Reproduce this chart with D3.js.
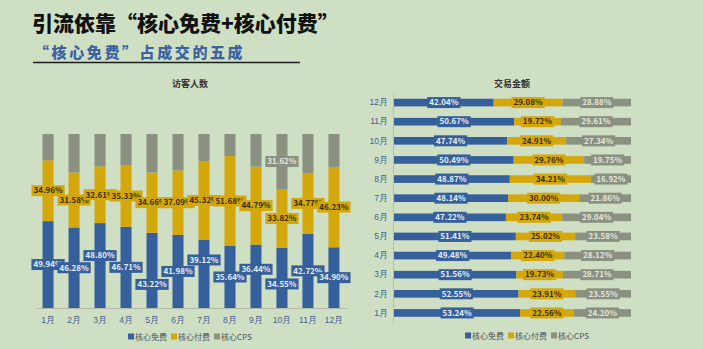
<!DOCTYPE html>
<html>
<head>
<meta charset="utf-8">
<script src="https://cdn.jsdelivr.net/npm/d3@7"></script>
<style>
  body { margin: 0; background: #cfdfc4; }
  svg { display: block; font-family: "Noto Sans CJK SC", "Noto Sans", sans-serif; }
</style>
</head>
<body>
<svg id="chart"></svg>
<script>
// data
const months = ["1月","2月","3月","4月","5月","6月","7月","8月","9月","10月","11月","12月"];
const seriesNames = ["核心免费","核心付费","核心CPS"];

// 访客人数 (left)
const visitFree = [49.94,46.28,48.80,46.71,43.22,41.98,39.12,35.64,36.44,34.55,42.72,34.90];
const visitPaid = [34.96,31.58,32.61,35.33,34.66,37.09,45.32,51.68,44.79,33.82,34.77,46.23];
const visitCps  = [15.10,22.14,18.59,17.96,22.12,20.93,15.56,12.68,18.77,31.62,22.51,18.87];
const visitCpsLabelled = ["10月"];

// 交易金额 (right)
const dealFree = [53.24,52.55,51.56,49.48,51.41,47.22,48.14,48.87,50.49,47.74,50.67,42.04];
const dealPaid = [22.56,23.91,19.73,22.40,25.02,23.74,30.00,34.21,29.76,24.91,19.72,29.08];
const dealCps  = [24.20,23.55,28.71,28.12,23.58,29.04,21.86,16.92,19.75,27.34,29.61,28.88];

const colors    = ["#35609c", "#d4a70a", "#8a9181"];
const textColor = ["#e4ecf6", "#3a2e05", "#e2e6dc"];

let width = 703, height = 349;
let svg = d3.select("#chart").attr("width", width).attr("height", height);

// titles
svg.append("text")
  .attr("x", 32).attr("y", 31)
  .attr("font-size", 21).attr("font-weight", 900).attr("fill", "#111")
  .text("引流依靠“核心免费+核心付费”");

svg.append("text")
  .attr("x", 34).attr("y", 58)
  .attr("font-size", 15).attr("font-weight", 900).attr("fill", "#3d62a0")
  .attr("letter-spacing", 2.6)
  .text("“核心免费”占成交的五成");

svg.append("line")
  .attr("x1", 33).attr("x2", 300).attr("y1", 62.5).attr("y2", 62.5)
  .attr("stroke", "#1e1e1e").attr("stroke-width", 1.3);

function label(g, x, y, txt, i) {
  let lg = g.append("g");
  let rect = lg.append("rect").attr("fill", colors[i]);
  let t = lg.append("text")
    .attr("x", x).attr("y", y).attr("dy", "0.35em")
    .attr("text-anchor", "middle")
    .attr("font-size", 8).attr("font-weight", 700)
    .attr("fill", textColor[i])
    .text(txt);
  let w = t.node().getComputedTextLength() + 4;
  rect.attr("x", x - w / 2).attr("y", y - 5.5).attr("width", w).attr("height", 11);
}

function legend(cx, cy) {
  let g = svg.append("g");
  let x = 0;
  seriesNames.forEach(function(name, i) {
    g.append("rect").attr("x", x).attr("y", cy - 3.5).attr("width", 6).attr("height", 6).attr("fill", colors[i]);
    let t = g.append("text").attr("x", x + 7).attr("y", cy).attr("dy", "0.35em")
      .attr("font-size", 8).attr("fill", "#4a5060").text(name);
    x += 7 + t.node().getComputedTextLength() + 4;
  });
  g.attr("transform", "translate(" + (cx - (x - 4) / 2) + ",0)");
}

// ---------- left: 访客人数 ----------
let visitRows = months.map(function(m, i) {
  return { month: m, free: visitFree[i], paid: visitPaid[i], cps: visitCps[i] };
});
let keys = ["free", "paid", "cps"];
let visitStack = d3.stack().keys(keys)(visitRows);

let x = d3.scaleBand().domain(months).range([35, 347]).paddingInner(0.575).paddingOuter(0.29);
let y = d3.scaleLinear().domain([0, 100]).range([308, 134]);

svg.append("text")
  .attr("x", 190).attr("y", 84).attr("dy", "0.35em")
  .attr("text-anchor", "middle").attr("font-size", 9).attr("font-weight", 700).attr("fill", "#333")
  .text("访客人数");

svg.append("g")
  .selectAll("g")
  .data(visitStack)
  .join("g")
  .attr("fill", function(d, i) { return colors[i]; })
  .selectAll("rect")
  .data(function(d) { return d; })
  .join("rect")
  .attr("x", function(d) { return x(d.data.month); })
  .attr("y", function(d) { return y(d[1]); })
  .attr("width", x.bandwidth())
  .attr("height", function(d) { return y(d[0]) - y(d[1]); });

let xAxis = svg.append("g")
  .attr("transform", "translate(0,308)")
  .call(d3.axisBottom(x).tickSize(0).tickPadding(9));
xAxis.select(".domain").attr("stroke", "#b4beac");
xAxis.selectAll("text").attr("font-size", 8.5).attr("fill", "#3f5f8f").attr("font-family", null);

// small nudges so overlapping blue labels stay readable
const labelShift = { "3月": -10, "5月": 14, "7月": -14, "9月": -7, "10月": 6 };

let leftLabels = svg.append("g");
visitStack.forEach(function(s, i) {
  s.forEach(function(d) {
    let m = d.data.month;
    if (i === 2 && visitCpsLabelled.indexOf(m) < 0) return;
    let cy = (y(d[0]) + y(d[1])) / 2 + (i === 0 ? (labelShift[m] || 0) : 0);
    label(leftLabels, x(m) + x.bandwidth() / 2, cy, d3.format(".2f")(d.data[keys[i]]) + "%", i);
  });
});

legend(190, 337);

// ---------- right: 交易金额 ----------
let dealRows = months.map(function(m, i) {
  return { month: m, free: dealFree[i], paid: dealPaid[i], cps: dealCps[i] };
});
let dealStack = d3.stack().keys(keys)(dealRows);

let yr = d3.scaleBand().domain(months.slice().reverse()).range([93, 322.5]).paddingInner(0.6).paddingOuter(0.3);
let xr = d3.scaleLinear().domain([0, 100]).range([394, 631]);

svg.append("text")
  .attr("x", 512).attr("y", 84).attr("dy", "0.35em")
  .attr("text-anchor", "middle").attr("font-size", 9).attr("font-weight", 700).attr("fill", "#333")
  .text("交易金额");

svg.append("g")
  .selectAll("g")
  .data(dealStack)
  .join("g")
  .attr("fill", function(d, i) { return colors[i]; })
  .selectAll("rect")
  .data(function(d) { return d; })
  .join("rect")
  .attr("x", function(d) { return xr(d[0]); })
  .attr("y", function(d) { return yr(d.data.month); })
  .attr("width", function(d) { return xr(d[1]) - xr(d[0]); })
  .attr("height", yr.bandwidth());

let yAxis = svg.append("g")
  .attr("transform", "translate(393,0)")
  .call(d3.axisLeft(yr).tickSize(0).tickPadding(5));
yAxis.select(".domain").attr("stroke", "#b4beac");
yAxis.selectAll("text").attr("font-size", 8.5).attr("fill", "#3f5f8f").attr("font-family", null);

let rightLabels = svg.append("g");
dealStack.forEach(function(s, i) {
  s.forEach(function(d) {
    label(rightLabels, (xr(d[0]) + xr(d[1])) / 2, yr(d.data.month) + yr.bandwidth() / 2,
      d3.format(".2f")(d.data[keys[i]]) + "%", i);
  });
});

legend(527, 336);
</script>
</body>
</html>
